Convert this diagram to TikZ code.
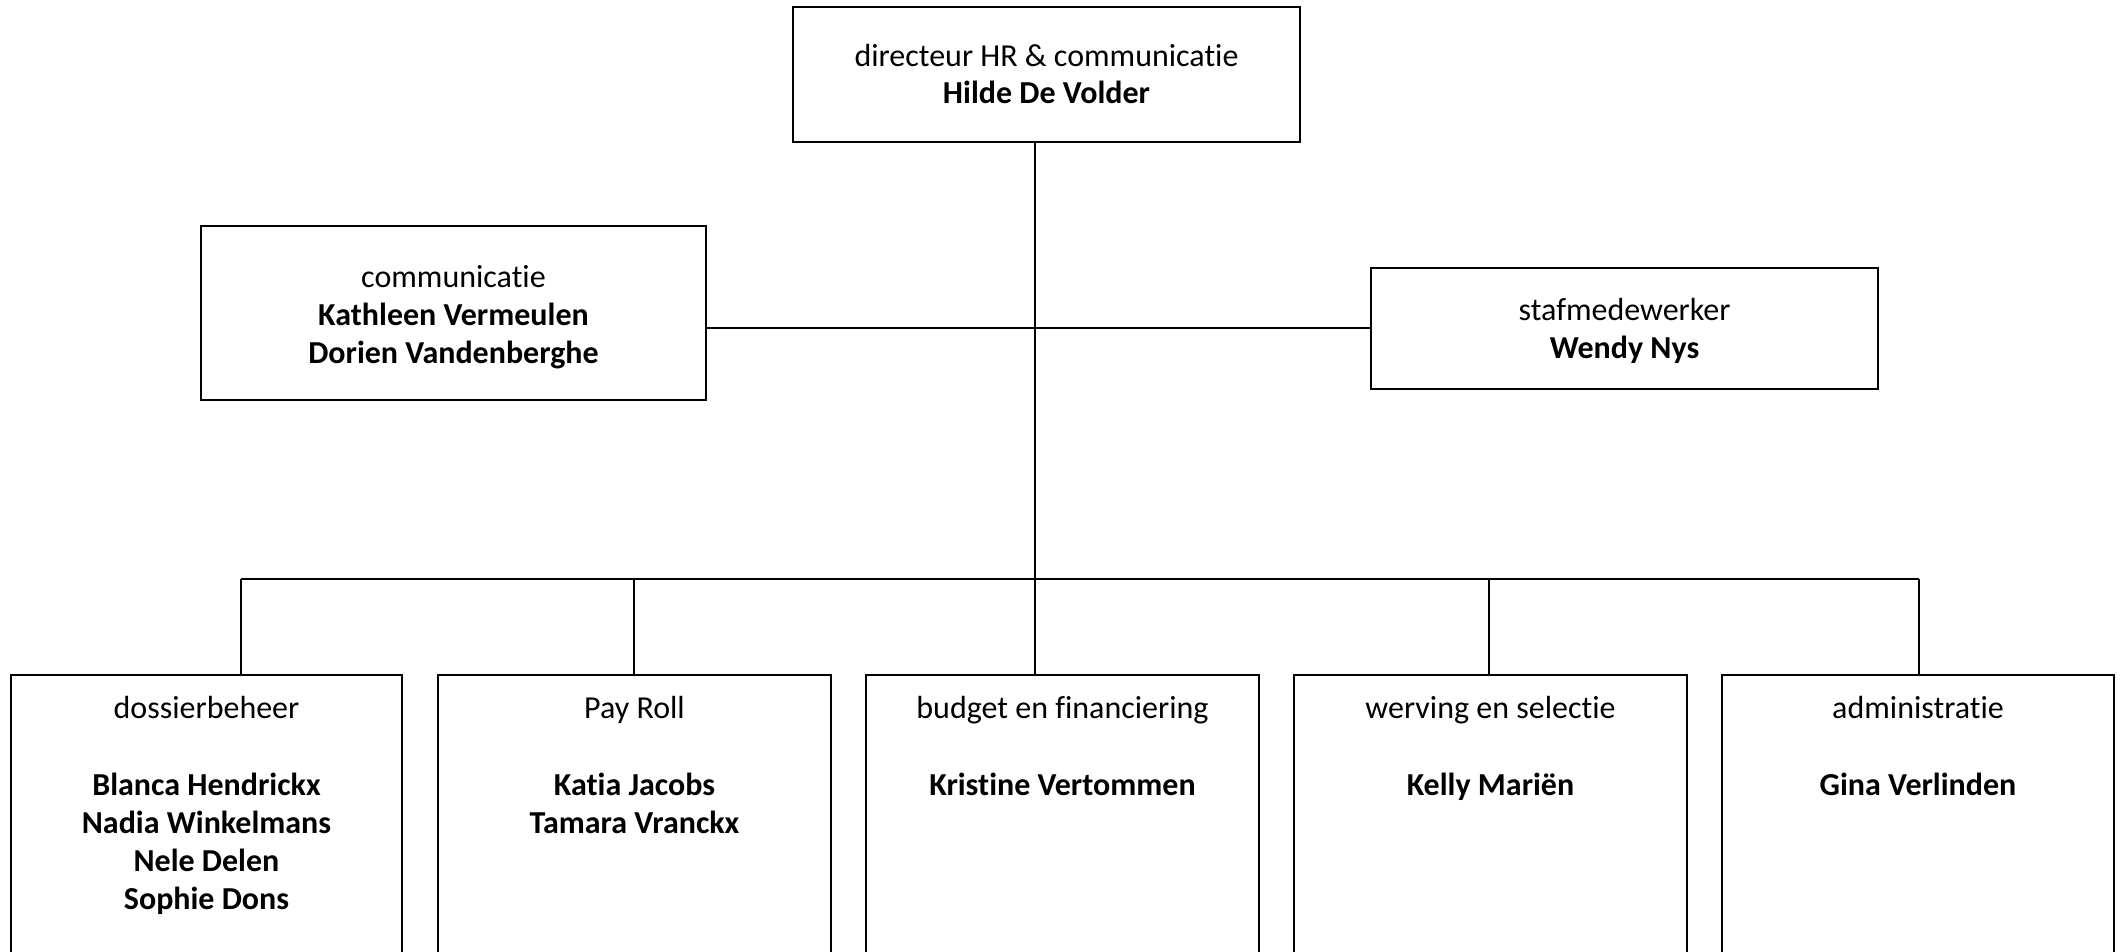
\documentclass[tikz,border=0pt]{standalone}
\usepackage{fontspec}
\setmainfont{Carlito}[Ligatures={NoCommon}]
\begin{document}
\begin{tikzpicture}[x=1pt,y=-1pt,
  box/.style={draw, line width=2pt, inner sep=0pt, outer sep=0pt, rectangle},
  conn/.style={line width=1.3pt},
  lbl/.style={anchor=base, inner sep=0pt, font=\fontsize{32}{38}\selectfont},
  pname/.style={anchor=base, inner sep=0pt, font=\fontsize{32}{38}\selectfont\bfseries}]
\useasboundingbox (0,0) rectangle (2125,952);
\clip (0,0) rectangle (2125,952);

% boxes
\node[box, minimum width=507pt, minimum height=135pt] (dir) at (1046.5,74.5) {};
\node[box, minimum width=505pt, minimum height=174pt] (comm) at (453.5,313) {};
\node[box, minimum width=507pt, minimum height=121pt] (staf) at (1624.5,328.5) {};
\node[box, minimum width=391pt, minimum height=400pt] (b1) at (206.5,875) {};
\node[box, minimum width=393pt, minimum height=400pt] (b2) at (634.5,875) {};
\node[box, minimum width=393pt, minimum height=400pt] (b3) at (1062.5,875) {};
\node[box, minimum width=393pt, minimum height=400pt] (b4) at (1490.5,875) {};
\node[box, minimum width=392pt, minimum height=400pt] (b5) at (1918,875) {};

% texts
\node[lbl] (dirt) at (1046.5,67) {directeur HR \& communicatie};
\node[pname] (dirn) at (1046.5,104) {Hilde De Volder};

\node[lbl] (commt) at (453.5,287) {communicatie};
\node[pname] (commn1) at (453.5,325) {Kathleen Vermeulen};
\node[pname] (commn2) at (453.5,363) {Dorien Vandenberghe};

\node[lbl] (staft) at (1624.5,320) {stafmedewerker};
\node[pname] (stafn) at (1624.5,358) {Wendy Nys};

\node[lbl] (b1t) at (206.5,718) {dossierbeheer};
\node[pname] (b1n1) at (206.5,795) {Blanca Hendrickx};
\node[pname] (b1n2) at (206.5,833) {Nadia Winkelmans};
\node[pname] (b1n3) at (206.5,871) {Nele Delen};
\node[pname] (b1n4) at (206.5,909) {Sophie Dons};

\node[lbl] (b2t) at (634.5,718) {Pay Roll};
\node[pname] (b2n1) at (634.5,795) {Katia Jacobs};
\node[pname] (b2n2) at (634.5,833) {Tamara Vranckx};

\node[lbl] (b3t) at (1062.5,718) {budget en financiering};
\node[pname] (b3n1) at (1062.5,795) {Kristine Vertommen};

\node[lbl] (b4t) at (1490.5,718) {werving en selectie};
\node[pname] (b4n1) at (1490.5,795) {Kelly Mariën};

\node[lbl] (b5t) at (1918,718) {administratie};
\node[pname] (b5n1) at (1918,795) {Gina Verlinden};

% connectors
\coordinate (h) at (1035,328);
\coordinate (j1) at (241,579);
\coordinate (j2) at (634,579);
\coordinate (j3) at (1035,579);
\coordinate (j4) at (1489,579);
\coordinate (j5) at (1919,579);

\draw[conn] (dir.south -| j3) -- (j3);
\draw[conn] (comm.east |- h) -- (staf.west |- h);
\draw[conn] (j1) -- (j5);
\draw[conn] (j1) -- (j1 |- b1.north);
\draw[conn] (j2) -- (j2 |- b2.north);
\draw[conn] (j3) -- (j3 |- b3.north);
\draw[conn] (j4) -- (j4 |- b4.north);
\draw[conn] (j5) -- (j5 |- b5.north);
\end{tikzpicture}
\end{document}
